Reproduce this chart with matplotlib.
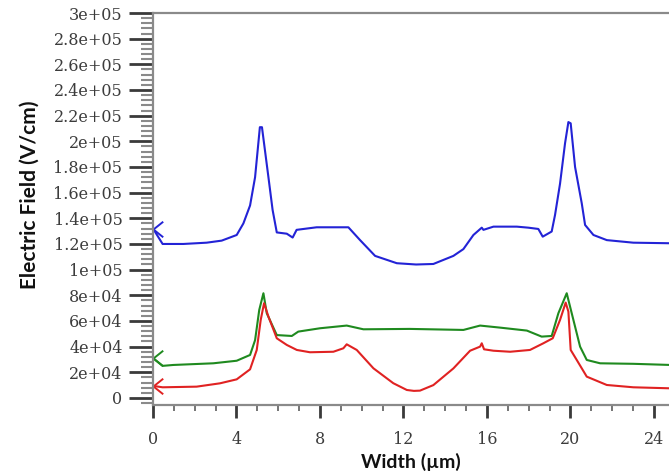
import matplotlib
matplotlib.use("Agg")
import matplotlib.pyplot as plt
from matplotlib.path import Path
from matplotlib.ticker import MultipleLocator, FuncFormatter
import numpy as np

# ---- data ----
blue_x = [0.0, 0.46, 1.45, 2.57, 3.29, 4.01, 4.33, 4.65, 4.89, 5.12, 5.22, 5.53, 5.73, 5.93,
          6.41, 6.69, 6.88, 7.84, 8.96, 9.36, 9.92, 10.64, 11.68, 12.6, 13.43, 14.39, 14.87,
          15.35, 15.75, 15.83, 16.31, 17.43, 17.98, 18.46, 18.67, 19.10, 19.26, 19.50, 19.74,
          19.90, 20.01, 20.22, 20.54, 20.70, 21.10, 21.74, 23.01, 25.0]
blue_y = [132000, 120000, 120000, 121000, 122600, 127000, 136000, 150000, 172000, 211000,
          211000, 172000, 146500, 129000, 128000, 125000, 131000, 133000, 133000, 133000,
          123000, 110700, 105000, 104000, 104400, 110700, 116000, 127000, 132700, 131000,
          133500, 133500, 132700, 131700, 125700, 129700, 142600, 167000, 198500, 215000,
          214000, 180000, 151700, 134800, 127000, 123000, 121000, 120500]

green_x = [0.0, 0.46, 0.97, 2.89, 4.01, 4.65, 4.89, 5.09, 5.29, 5.45, 5.93, 6.65, 6.96, 8.0,
           9.28, 10.08, 12.3, 14.87, 15.67, 16.63, 17.91, 18.62, 19.10, 19.42, 19.82, 20.06,
           20.46, 20.78, 21.42, 23.01, 25.0]
green_y = [31000, 25000, 25700, 27000, 29000, 33500, 45000, 68600, 81600, 66000, 49000, 48300,
           51700, 54300, 56400, 53500, 53800, 53000, 56400, 54800, 52500, 47800, 48300, 66000,
           81600, 66000, 40000, 29600, 27000, 26600, 25600]

red_x = [0.0, 0.46, 2.09, 3.21, 4.01, 4.65, 4.97, 5.16, 5.32, 5.53, 5.93, 6.41, 6.89, 7.52,
         8.64, 9.12, 9.28, 9.76, 10.56, 11.51, 12.16, 12.5, 12.79, 13.43, 14.39, 15.19, 15.67,
         15.75, 15.86, 16.31, 17.11, 18.06, 18.70, 19.15, 19.50, 19.77, 19.90, 20.01, 20.30,
         20.78, 21.74, 23.01, 25.0]
red_y = [9400, 8300, 8800, 11400, 14500, 22300, 37400, 60800, 73800, 63400, 46500, 41300,
         37400, 35600, 36000, 38700, 41800, 37400, 23100, 11500, 6200, 5500, 5700, 10000,
         23000, 36800, 40000, 42600, 37900, 36800, 36000, 37400, 42600, 46500, 60800, 74300,
         67300, 37400, 29600, 16600, 10100, 8300, 7400]

series = [(blue_x, blue_y, "#2323d6"), (green_x, green_y, "#1f8a1f"), (red_x, red_y, "#e02222")]

# ---- figure ----
fig = plt.figure(figsize=(6.69, 4.76), dpi=100)
ax = fig.add_axes([153 / 669, (476 - 405) / 476, (669 - 153) / 669, (405 - 13) / 476])

chevron = Path([(1.0, 0.8), (0.0, 0.0), (1.0, -0.8)],
               [Path.MOVETO, Path.LINETO, Path.LINETO])

for xs, ys, col in series:
    ax.plot(xs, ys, color=col, lw=1.5, solid_joinstyle="round")
    ax.plot(xs, ys, linestyle="none", marker=chevron, markersize=14, markevery=[0],
            markerfacecolor="none", markeredgecolor=col, markeredgewidth=1.4, clip_on=False)

ax.set_xlim(0, 24.72)
ax.set_ylim(-5500, 300000)

ax.spines["right"].set_visible(False)
for s in ("left", "bottom", "top"):
    ax.spines[s].set_color("#8a8a8a")
    ax.spines[s].set_linewidth(1.6)

ax.xaxis.set_major_locator(MultipleLocator(4))
ax.xaxis.set_minor_locator(MultipleLocator(1))
ax.yaxis.set_major_locator(MultipleLocator(20000))
ax.yaxis.set_minor_locator(MultipleLocator(4000))


def yfmt(v, pos):
    if abs(v) < 1e-9:
        return "0"
    e = int(np.floor(np.log10(abs(v))))
    m = v / 10 ** e
    ms = ("%.1f" % m).rstrip("0").rstrip(".")
    return "%se+%02d" % (ms, e)


ax.yaxis.set_major_formatter(FuncFormatter(yfmt))
ax.xaxis.set_major_formatter(FuncFormatter(lambda v, p: "%d" % round(v)))

ax.tick_params(axis="y", which="major", direction="out", length=17, width=2.0,
               color="#3a3a3a", pad=5, labelcolor="#3c3c3c", labelsize=11.5)
ax.tick_params(axis="y", which="minor", direction="out", length=8.5, width=1.5, color="#8a8a8a")
ax.tick_params(axis="x", which="major", direction="out", length=9, width=2.0,
               color="#3a3a3a", pad=10, labelcolor="#3c3c3c", labelsize=11.5)
ax.tick_params(axis="x", which="minor", direction="out", length=4.5, width=1.3, color="#6a6a6a")
ax.tick_params(top=False, right=False, which="both")
for lab in ax.get_xticklabels() + ax.get_yticklabels():
    lab.set_fontfamily("DejaVu Serif")

ax.set_ylabel("Electric Field (V/cm)", fontfamily="Lato", fontweight="bold",
              fontsize=15, color="#111111")
ax.yaxis.set_label_coords(-0.219, 0.536)
ax.set_xlabel("Width (\u00b5m)", fontfamily="Lato", fontweight="bold",
              fontsize=14, color="#111111", labelpad=3)

fig.savefig("out.png", dpi=100)
